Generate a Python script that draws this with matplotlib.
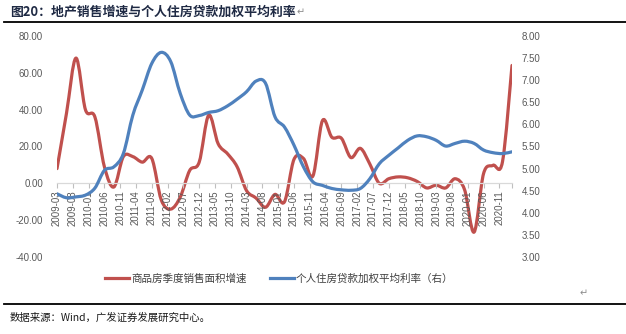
"""Sales-area growth vs. personal housing loan weighted rate, redrawn from the report figure."""
import numpy as np
import pandas as pd
import matplotlib
matplotlib.use("Agg")
import matplotlib.pyplot as plt
from matplotlib.lines import Line2D
from matplotlib.path import Path
from matplotlib.patches import PathPatch
from matplotlib.ticker import FormatStrFormatter

CJK = ["Noto Sans CJK SC", "DejaVu Sans"]
NUM = ["Liberation Sans", "DejaVu Sans"]

# quarterly points, 2009-03 .. 2021-03
quarters = pd.period_range("2009-03", "2021-03", freq="Q")
sales_growth = [8.0, 38.0, 68.0, 40.0,
                36.0, 9.0, -2.0, 14.5,
                14.5, 11.5, 13.5, -9.0,
                -14.0, -7.5, 7.0, 11.5,
                37.0, 21.5, 16.0, 9.0,
                -4.0, -8.0, -13.0, -6.0,
                -10.0, 13.0, 13.5, 4.0,
                34.0, 25.0, 24.5, 14.0,
                19.0, 10.5, 0.0, 2.5,
                3.5, 3.0, 1.0, -2.5,
                -1.0, -2.5, 2.5, -3.5,
                -26.5, 5.3, 9.8, 11.8,
                64.0]
loan_rate = [4.43, 4.34, 4.36, 4.40,
             4.56, 4.96, 5.04, 5.34,
             6.21, 6.78, 7.38, 7.63,
             7.42, 6.70, 6.21, 6.20,
             6.27, 6.31, 6.42, 6.57,
             6.74, 6.98, 6.93, 6.17,
             5.94, 5.53, 5.04, 4.70,
             4.62, 4.55, 4.52, 4.51,
             4.55, 4.77, 5.11, 5.30,
             5.47, 5.64, 5.74, 5.72,
             5.64, 5.51, 5.57, 5.62,
             5.57, 5.42, 5.36, 5.34,
             5.38]
tick_labels = list(pd.date_range("2009-03-01", "2020-11-01", freq="5MS").strftime("%Y-%m"))

RED = "#C0504D"
BLUE = "#4F81BD"
GREY_TXT = "#595959"


def smooth_path(x, y):
    """Excel-like smoothed line: cubic Bezier through every point."""
    n = len(x)
    verts = [(x[0], y[0])]
    codes = [Path.MOVETO]
    for i in range(n - 1):
        a = max(i - 1, 0)
        b = min(i + 2, n - 1)
        c1 = (x[i] + (x[i + 1] - x[a]) / 6, y[i] + (y[i + 1] - y[a]) / 6)
        c2 = (x[i + 1] - (x[b] - x[i]) / 6, y[i + 1] - (y[b] - y[i]) / 6)
        verts += [c1, c2, (x[i + 1], y[i + 1])]
        codes += [Path.CURVE4] * 3
    return Path(verts, codes)


def main():
    fig = plt.figure(figsize=(6.26, 3.34), dpi=100)
    ax = fig.add_axes([57 / 626, 1 - 257 / 334, 455 / 626, 221 / 334])
    ax2 = ax.twinx()

    # spine position first: moving it resets the tick objects
    ax.spines["bottom"].set_position(("data", 0))
    ax.spines["bottom"].set_color("#D9D9D9")
    ax.spines["bottom"].set_linewidth(0.9)
    for a in (ax, ax2):
        for s in ("top", "left", "right"):
            a.spines[s].set_visible(False)
    ax2.spines["bottom"].set_visible(False)

    months = np.arange(len(quarters)) * 3
    ax.add_patch(PathPatch(smooth_path(months, sales_growth), fill=False,
                           edgecolor=RED, lw=2.3, capstyle="round", joinstyle="round"))
    ax2.add_patch(PathPatch(smooth_path(months, loan_rate), fill=False,
                            edgecolor=BLUE, lw=2.3, capstyle="round", joinstyle="round"))

    ax.set_xlim(0, months[-1])
    ax.set_ylim(-40, 80)
    ax2.set_ylim(3, 8)
    ax.set_yticks(np.arange(-40, 81, 20))
    ax2.set_yticks(np.arange(3, 8.01, 0.5))
    ax.yaxis.set_major_formatter(FormatStrFormatter("%.2f"))
    ax2.yaxis.set_major_formatter(FormatStrFormatter("%.2f"))

    tick_pos = np.arange(len(tick_labels)) * 5
    ax.set_xticks(tick_pos)
    ax.set_xticklabels(tick_labels, fontsize=7, family=NUM, color=GREY_TXT)
    ax.set_xticks([months[-1]], minor=True)
    ax.tick_params(axis="x", which="both", length=3.5, width=0.8, color="#BFBFBF",
                   direction="out", pad=1.5, labelrotation=90)

    for a in (ax, ax2):
        a.tick_params(axis="y", length=0, labelsize=7, labelcolor=GREY_TXT)
        for lab in a.get_yticklabels():
            lab.set_family(NUM)
    ax.tick_params(axis="y", pad=10)
    ax2.tick_params(axis="y", pad=7)

    # title and rules
    fig.text(10 / 626, 1 - 11.5 / 334, "图20：地产销售增速与个人住房贷款加权平均利率",
             family=CJK, fontsize=9.3, fontweight="bold", color="#1f2a44",
             ha="left", va="center")
    fig.text(297 / 626, 1 - 12 / 334, "↵", family=["DejaVu Sans"], fontsize=7,
             color="#8c8c8c", ha="left", va="center")
    fig.add_artist(Line2D([4 / 626, 1], [1 - 22.3 / 334] * 2, transform=fig.transFigure,
                          color="black", lw=1.3))
    fig.add_artist(Line2D([4 / 626, 1], [1 - 304 / 334] * 2, transform=fig.transFigure,
                          color="black", lw=1.3))

    handles = [Line2D([], [], color=RED, lw=2.3),
               Line2D([], [], color=BLUE, lw=2.3)]
    fig.legend(handles, ["商品房季度销售面积增速", "个人住房贷款加权平均利率（右）"],
               loc="center", bbox_to_anchor=(279 / 626, 1 - 279 / 334), ncol=2,
               frameon=False, prop={"family": CJK, "size": 7.6},
               handlelength=2.3, handletextpad=0.15, columnspacing=2.2,
               labelcolor="#404040")

    fig.text(580 / 626, 1 - 293 / 334, "↵", family=["DejaVu Sans"], fontsize=7,
             color="#8c8c8c", ha="left", va="center")
    fig.text(10 / 626, 1 - 318 / 334, "数据来源：Wind，广发证券发展研究中心。",
             family=CJK, fontsize=7.5, color="#1a1a1a", ha="left", va="center")

    fig.savefig("out.png", dpi=100, facecolor="white")


if __name__ == "__main__":
    main()
